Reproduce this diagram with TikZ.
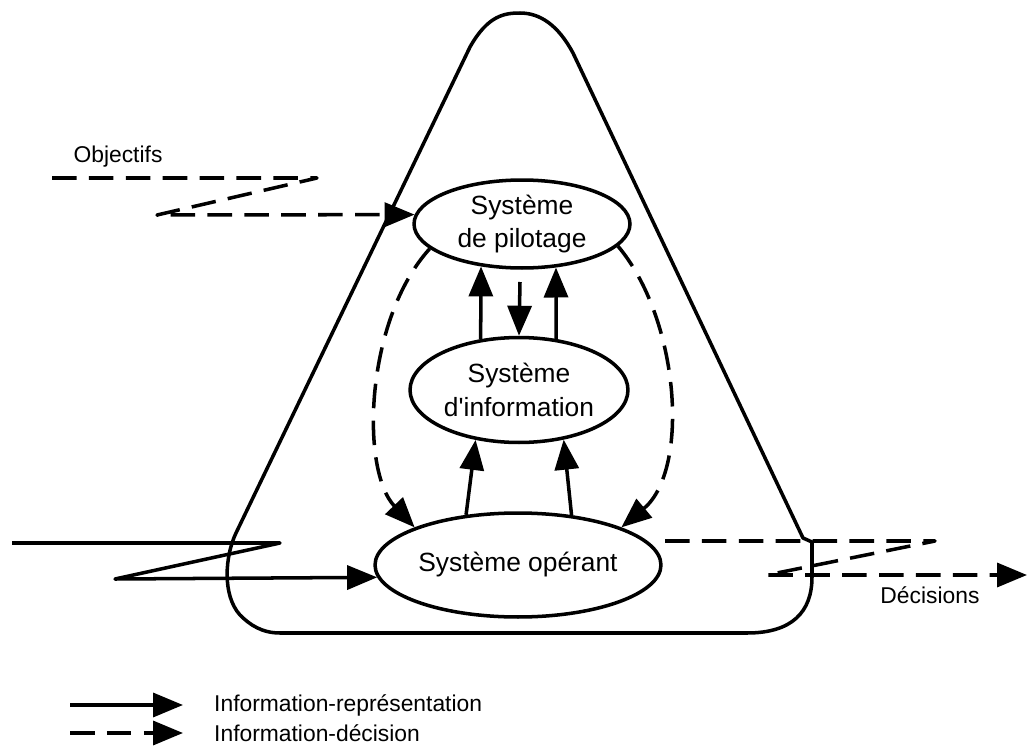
\documentclass[tikz,border=0pt]{standalone}
\usepackage{fontspec}
\setmainfont{Liberation Sans}[Ligatures=TeXOff]
\usetikzlibrary{arrows.meta,shapes.geometric}
\tikzset{
  sys/.style={ellipse,draw,line width=2pt,inner sep=0pt,align=center,font=\fontsize{15}{19}\selectfont},
  rep/.style={line width=2pt,line join=round,-{Triangle[length=0.6cm,width=0.48cm]}},
  dec/.style={rep,dash pattern=on 14pt off 7pt},
  lbl/.style={font=\fontsize{13}{15}\selectfont},
}

\begin{document}
\begin{tikzpicture}[x=0.02cm,y=-0.02cm]
  \useasboundingbox (0,0) rectangle (1029,754);
  % enveloppe
  \draw[line width=2pt,line join=round] (470,47) .. controls (488,15) and (505,13) .. (520,13)
    .. controls (540,13) and (558,25) .. (573,53) -- (803,538) -- (812,542) -- (812,577)
    .. controls (812,612) and (792,633) .. (747,633) -- (280,633)
    .. controls (262,633) and (250,625) .. (240,615)
    .. controls (222,595) and (225,556) .. (236,533) -- cycle;
  % systemes
  \node (pil) at (522,224) [sys,minimum width=4.32cm,minimum height=1.76cm] {Système\\de pilotage};
  \node (info) at (519,390) [sys,minimum width=4.36cm,minimum height=2.1cm] {Système\\d'information};
  \node (op) at (518,565) [sys,minimum width=5.72cm,minimum height=2.08cm] {Système opérant};
  \coordinate (pmid) at (520,282);
  \draw[rep] (info.127) -- (pil.226);
  \draw[rep] (info.54) -- (pil.-52);
  \draw[rep] (pmid) -- (info.north);
  \draw[rep] (op.136) -- (info.229);
  \draw[rep] (op.43) -- (info.-48);
  \draw[dec] (pil.195) .. controls (365,320) and (360,470) .. (op.160);
  \draw[dec] (pil.-13) .. controls (680,320) and (690,470) .. (op.20);
  % objectifs
  \node (obj) at (118,157) [lbl] {Objectifs};
  \coordinate (o1) at (52,178);
  \coordinate (o2) at (317,178);
  \coordinate (o3) at (157,215);
  \draw[dec] (o1) -- (o2) -- (o3) -- (pil.175);
  % entree
  \coordinate (e1) at (12,543);
  \coordinate (e2) at (280,543);
  \coordinate (e3) at (115,579);
  \draw[rep] (e1) -- (e2) -- (e3) -- (op.185);
  % decisions
  \coordinate (d1) at (665,541);
  \coordinate (d2) at (935,541);
  \coordinate (d3) at (767,575);
  \coordinate (d4) at (1027,575);
  \draw[dec] (d1) -- (d2) -- (d3) -- (d4);
  \node (decis) at (930,595) [lbl] {Décisions};
  % legende
  \coordinate (lr) at (70,705);
  \coordinate (ld) at (70,733);
  \node (lrt) at (208,705) [anchor=west,lbl] {Information-représentation};
  \node (ldt) at (208,733) [anchor=west,lbl] {Information-décision};
  \draw[rep] (lr) -- ([xshift=-0.5cm]lrt.west);
  \draw[dec] (ld) -- ([xshift=-0.5cm]ldt.west);
\end{tikzpicture}
\end{document}
